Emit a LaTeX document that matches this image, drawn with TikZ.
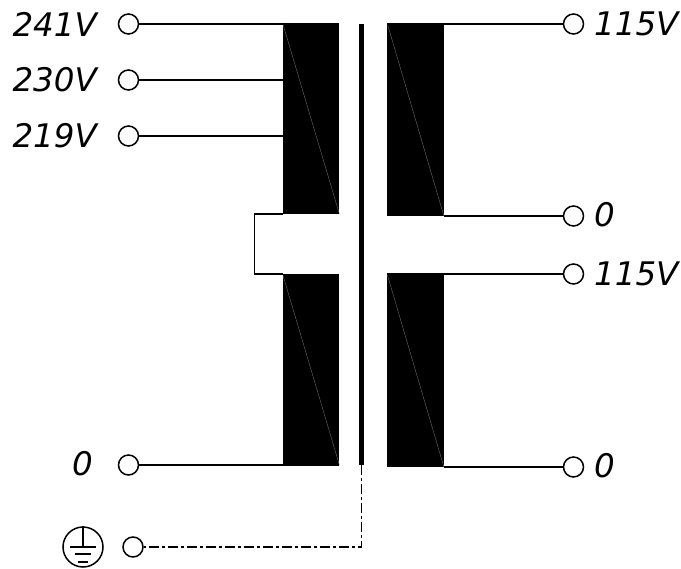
\documentclass[tikz,border=0pt]{standalone}
\usepackage{fontspec}
\setmainfont{DejaVu Sans}
\tikzset{
    terminal/.style={circle,draw,line width=1.5pt,fill=white,inner sep=0pt,minimum size=20pt},
    coil/.style={rectangle,fill=black,inner sep=0pt,minimum width=56.5pt},
    winding/.style={line width=1.5pt},
    turns/.style={line width=0.3pt,gray},
    volt/.style={inner sep=0pt,font=\fontsize{32.5}{36}\selectfont\itshape}
}
\begin{document}
\begin{tikzpicture}[x=1pt,y=-1pt]
        \useasboundingbox (0,0) rectangle (681,569);

        \node[coil,minimum height=191pt] (coilA) at (311,118.5) {};
        \node[coil,minimum height=191pt] (coilB) at (311,369.5) {};
        \node[coil,minimum height=193pt] (coilC) at (415.5,119.5) {};
        \node[coil,minimum height=193pt] (coilD) at (415.5,370.5) {};

        \draw[turns] (coilA.north west) -- (coilA.south east);
        \draw[turns] (coilB.north west) -- (coilB.south east);
        \draw[turns] (coilC.north west) -- (coilC.south east);
        \draw[turns] (coilD.north west) -- (coilD.south east);

        \coordinate (coreTop) at (361.5,24);
        \coordinate (coreEnd) at (361.5,465);
        \draw[line width=4.5pt] (coreTop) -- (coreEnd);

        \node[terminal] (t241) at (128.5,24) {};
        \node[terminal] (t230) at (128.5,80) {};
        \node[terminal] (t219) at (128.5,136) {};
        \node[terminal] (t0) at (128.5,465) {};
        \node[terminal] (tEarth) at (133,547) {};
        \node[terminal] (r115a) at (573.5,24) {};
        \node[terminal] (r0a) at (573.5,216) {};
        \node[terminal] (r115b) at (573.5,274) {};
        \node[terminal] (r0b) at (573.5,467) {};

        \node[volt,anchor=east] (l241) at (97,24) {241V};
        \node[volt,anchor=east] (l230) at (97,80) {230V};
        \node[volt,anchor=east] (l219) at (97,136) {219V};
        \node[volt,anchor=east] (l0) at (93,464) {0};
        \node[volt,anchor=west] (lr115a) at (594,24) {115V};
        \node[volt,anchor=west] (lr0a) at (594,215) {0};
        \node[volt,anchor=west] (lr115b) at (594,274) {115V};
        \node[volt,anchor=west] (lr0b) at (594,466) {0};

        % left side
        \draw[winding] (t241) -- (t241 -| coilA.east);
        \draw[winding] (t230) -- (t230 -| coilA.west);
        \draw[winding] (t219) -- (t219 -| coilA.west);
        \draw[winding] (t0) -- (t0 -| coilB.east);
        \draw[winding] (coilA.south west) -- ++(-28,0) |- (coilB.north west);

        % right side
        \draw[winding] (r115a) -- (r115a -| coilC.west);
        \draw[winding] (r0a) -- (r0a -| coilC.east);
        \draw[winding] (r115b) -- (r115b -| coilD.west);
        \draw[winding] (r0b) -- (r0b -| coilD.east);

        % earth
        \draw[winding,dash pattern=on 10pt off 3pt on 3pt off 3pt] (coreEnd) |- (tEarth);
        \node[circle,draw,line width=1.5pt,inner sep=0pt,minimum size=40pt] (earth) at (83,547) {};
        \draw[winding] (earth.north) -- (earth.center);
        \draw[winding] ([xshift=-13pt]earth.center) -- ([xshift=13pt]earth.center);
        \draw[winding] ([shift={(-8,7)}]earth.center) -- ([shift={(8,7)}]earth.center);
        \draw[winding] ([shift={(-5,15)}]earth.center) -- ([shift={(5,15)}]earth.center);
\end{tikzpicture}
\end{document}
